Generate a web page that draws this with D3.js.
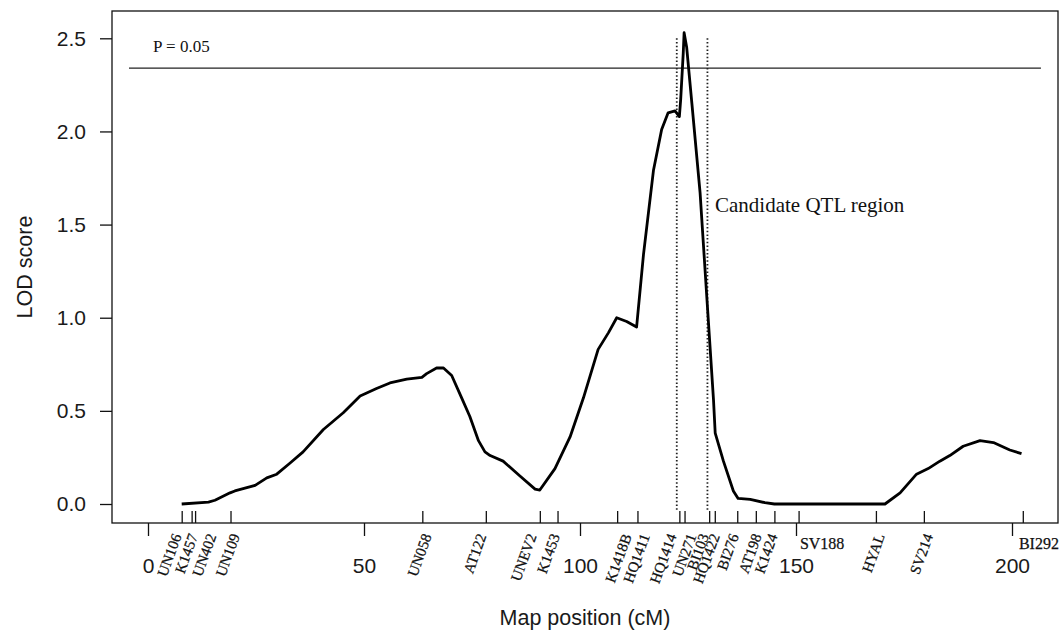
<!DOCTYPE html>
<html>
<head>
<meta charset="utf-8">
<script src="https://cdn.jsdelivr.net/npm/d3@7"></script>
<style>
  body { margin: 0; background: #fff; }
  svg { display: block; }
  .serif { font-family: "Liberation Serif", "Times New Roman", serif; }
  .sans { font-family: "Liberation Sans", Arial, sans-serif; }
</style>
</head>
<body>
<svg id="chart" width="1063" height="634"></svg>
<script>
// LOD profile (cM, LOD)
const mapPos = [7.8, 14.0, 15.5, 19.0, 20.1, 24.8, 27.5, 29.8, 32.9, 35.9, 40.6, 45.2, 49.1, 52.9, 56.0, 59.9, 63.4, 64.5, 66.8, 68.4,
  70.3, 72.6, 74.5, 76.5, 78.0, 79.2, 82.2, 86.1, 89.6, 90.7, 94.2, 97.7, 100.8, 104.2, 106.6, 108.5, 110.8, 113.1, 114.7, 117.0,
  118.9, 120.4, 122.0, 123.0, 123.3, 123.9, 124.1, 124.7, 125.9, 127.8, 129.3, 130.9, 131.3, 133.2, 135.5, 136.6, 139.4, 142.8, 145.0, 170.6,
  174.1, 177.9, 180.6, 183.3, 185.6, 188.7, 192.6, 195.7, 199.5, 202.2];
const lodScore = [0.00, 0.01, 0.02, 0.06, 0.07, 0.10, 0.14, 0.16, 0.22, 0.28, 0.40, 0.49, 0.58, 0.62, 0.65, 0.67, 0.68, 0.70, 0.73, 0.73,
  0.69, 0.57, 0.47, 0.34, 0.28, 0.26, 0.23, 0.15, 0.08, 0.075, 0.19, 0.36, 0.57, 0.83, 0.92, 1.00, 0.98, 0.95, 1.34, 1.79,
  2.01, 2.10, 2.11, 2.08, 2.17, 2.42, 2.53, 2.45, 2.15, 1.67, 1.13, 0.56, 0.38, 0.23, 0.07, 0.03, 0.025, 0.007, 0.0, 0.0,
  0.06, 0.16, 0.19, 0.23, 0.26, 0.31, 0.34, 0.33, 0.29, 0.27];

// markers: name, tick position, label position (cM)
const markerNames = ['UN106', 'K1457', 'UN402', 'UN109', 'UN058', 'AT122', 'UNEV2', 'K1453', 'K1418B', 'HQ1411', 'HQ1414',
  'UN271', 'BI103', 'HQ1422', 'BI276', 'AT198', 'K1424', 'SV188', 'HYAL', 'SV214', 'BI292'];
const markerPos = [7.8, 10.1, 10.9, 19.1, 63.5, 78.2, 90.7, 94.8, 108.6, 113.3, 123.0,
  124.2, 129.9, 131.2, 136.4, 140.7, 145.0, 150.6, 168.5, 179.6, 202.5];
const labelPos = [7.8, 11.6, 15.9, 21.3, 65.7, 78.4, 90.0, 95.4, 112.0, 116.2, 122.4,
  127.0, 129.9, 132.4, 136.8, 142.1, 145.8, 150.9, 170.6, 181.8, 201.6];
const flatLabels = ['SV188', 'BI292'];

const xTicks = [0, 50, 100, 150, 200];
const yTicks = [0, 0.5, 1.0, 1.5, 2.0, 2.5];
const threshold = 2.34;
const thresholdSpan = [-4.4, 206.7];
const qtlBounds = [122.4, 129.5];
const qtlSpan = [-0.035, 2.5];

const box = { left: 112, top: 11, right: 1058, bottom: 523 };

const svg = d3.select('#chart');

const x = d3.scaleLinear().domain([0, 200]).range([148, 1012]);
const y = d3.scaleLinear().domain([0, 2.5]).range([504, 38.3]);

// frame
svg.append('rect')
  .attr('x', box.left)
  .attr('y', box.top)
  .attr('width', box.right - box.left)
  .attr('height', box.bottom - box.top)
  .attr('fill', 'none')
  .attr('stroke', '#111')
  .attr('stroke-width', 1.3);

// y axis
const yAxis = svg.append('g')
  .attr('transform', `translate(${box.left},0)`)
  .call(d3.axisLeft(y).tickValues(yTicks).tickFormat(d3.format('.1f')).tickSize(12).tickPadding(14));
yAxis.select('.domain').remove();
yAxis.selectAll('line').attr('stroke', '#111').attr('stroke-width', 1.3);
yAxis.selectAll('text').attr('font-size', 21).attr('fill', '#1a1a1a').attr('font-family', '"Liberation Sans", Arial, sans-serif');

// numeric x axis
const xAxis = svg.append('g')
  .attr('transform', `translate(0,${box.bottom})`)
  .call(d3.axisBottom(x).tickValues(xTicks).tickFormat(d3.format('d')).tickSize(13).tickPadding(22));
xAxis.select('.domain').remove();
xAxis.selectAll('line').attr('stroke', '#111').attr('stroke-width', 1.3);
xAxis.selectAll('text').attr('font-size', 21).attr('fill', '#1a1a1a').attr('font-family', '"Liberation Sans", Arial, sans-serif');

// marker ticks inside the frame
const mAxis = svg.append('g')
  .attr('transform', `translate(0,${box.bottom})`)
  .call(d3.axisTop(x).tickValues(markerPos).tickFormat('').tickSize(12));
mAxis.select('.domain').remove();
mAxis.selectAll('line').attr('stroke', '#111').attr('stroke-width', 1.3);

// marker labels
const markers = markerNames.map((name, i) => ({ name, pos: markerPos[i], label: labelPos[i] }));
svg.append('g')
  .attr('class', 'serif')
  .selectAll('text')
  .data(markers)
  .enter()
  .append('text')
  .attr('font-size', d => flatLabels.includes(d.name) ? 16 : 15)
  .attr('fill', '#111')
  .attr('stroke', '#111')
  .attr('stroke-width', 0.25)
  .attr('text-anchor', d => flatLabels.includes(d.name) ? 'start' : 'end')
  .attr('transform', d => flatLabels.includes(d.name)
    ? `translate(${x(d.label)},549)`
    : `translate(${x(d.label)},536) rotate(-70)`)
  .text(d => d.name);

// threshold
svg.append('line')
  .attr('x1', x(thresholdSpan[0]))
  .attr('x2', x(thresholdSpan[1]))
  .attr('y1', y(threshold))
  .attr('y2', y(threshold))
  .attr('stroke', '#222')
  .attr('stroke-width', 1.3);

svg.append('text')
  .attr('class', 'serif')
  .attr('x', 153)
  .attr('y', 52)
  .attr('font-size', 17)
  .attr('fill', '#111')
  .text('P = 0.05');

// candidate region bounds
svg.selectAll('.qtl')
  .data(qtlBounds)
  .enter()
  .append('line')
  .attr('class', 'qtl')
  .attr('x1', d => x(d))
  .attr('x2', d => x(d))
  .attr('y1', y(qtlSpan[1]))
  .attr('y2', y(qtlSpan[0]))
  .attr('stroke', '#222')
  .attr('stroke-width', 1.8)
  .attr('stroke-dasharray', '1.5,2.2');

svg.append('text')
  .attr('class', 'serif')
  .attr('x', 715)
  .attr('y', 211.5)
  .attr('font-size', 21)
  .attr('fill', '#111')
  .text('Candidate QTL region');

// LOD curve
const profile = mapPos.map((p, i) => ({ pos: p, lod: lodScore[i] }));
const line = d3.line()
  .x(d => x(d.pos))
  .y(d => y(d.lod));

svg.append('path')
  .datum(profile)
  .attr('fill', 'none')
  .attr('stroke', '#000')
  .attr('stroke-width', 2.8)
  .attr('stroke-linejoin', 'round')
  .attr('d', line);

// axis titles
svg.append('text')
  .attr('class', 'sans')
  .attr('x', 585)
  .attr('y', 625)
  .attr('text-anchor', 'middle')
  .attr('font-size', 21.5)
  .attr('fill', '#1a1a1a')
  .text('Map position (cM)');

svg.append('text')
  .attr('class', 'sans')
  .attr('transform', `translate(32,${(box.top + box.bottom) / 2}) rotate(-90)`)
  .attr('text-anchor', 'middle')
  .attr('font-size', 21.5)
  .attr('fill', '#1a1a1a')
  .text('LOD score');
</script>
</body>
</html>
